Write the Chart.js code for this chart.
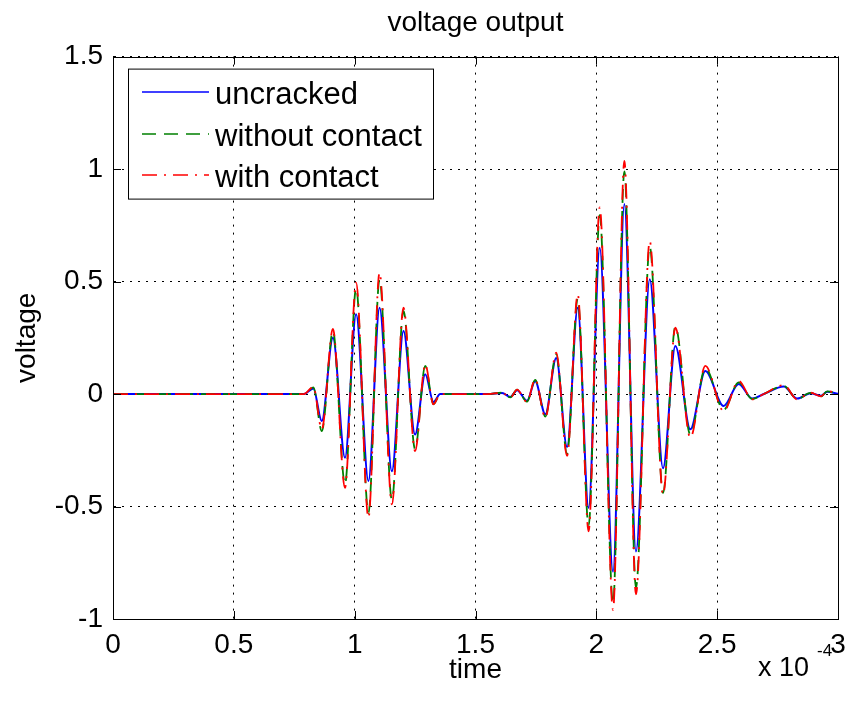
<!DOCTYPE html>
<html>
<head>
<meta charset="utf-8">
<script src="https://cdn.jsdelivr.net/npm/chart.js@4.4.0/dist/chart.umd.min.js"></script>
<style>
  html, body { margin: 0; padding: 0; background: #fff; }
</style>
</head>
<body>
<canvas id="voltage-chart" width="849" height="710"></canvas>
<script>
// time in units of 1e-4 s (axis shows "x 10^-4")
var timeE4 = [0, 0.79, 0.829, 0.864, 0.91, 0.96, 1.006, 1.057, 1.103, 1.154,
  1.202, 1.25, 1.292, 1.326, 1.354, 1.40, 1.55, 1.61, 1.644, 1.672,
  1.713, 1.747, 1.789, 1.834, 1.879, 1.923, 1.968, 2.014, 2.069, 2.116,
  2.164, 2.221, 2.276, 2.327, 2.389, 2.451, 2.527, 2.589, 2.645, 2.693,
  2.776, 2.831, 2.886, 2.93, 2.955, 3.0];

var uncracked = [0, 0, 0.025, -0.12, 0.25, -0.283, 0.355, -0.387, 0.384, -0.343,
  0.28, -0.18, 0.088, -0.035, 0, 0, 0, 0.005, -0.013, 0.017,
  -0.03, 0.057, -0.09, 0.16, -0.235, 0.384, -0.506, 0.65, -0.79, 0.845,
  -0.70, 0.51, -0.33, 0.214, -0.157, 0.102, -0.053, 0.045, -0.02, 0,
  0.033, -0.02, 0.004, -0.008, 0.01, 0.001];

var withoutContact = [0, 0, 0.03, -0.165, 0.28, -0.40, 0.47, -0.53, 0.51, -0.47,
  0.37, -0.245, 0.125, -0.045, 0, 0, 0, 0.006, -0.015, 0.02,
  -0.034, 0.063, -0.10, 0.176, -0.265, 0.425, -0.585, 0.795, -0.93, 0.99,
  -0.86, 0.655, -0.44, 0.30, -0.18, 0.115, -0.07, 0.052, -0.022, 0,
  0.036, -0.022, 0.005, -0.01, 0.012, 0.001];

var withContact = [0, 0, 0.032, -0.157, 0.29, -0.417, 0.495, -0.55, 0.54, -0.49,
  0.384, -0.254, 0.132, -0.046, 0, 0, 0, 0.006, -0.016, 0.02,
  -0.035, 0.066, -0.105, 0.184, -0.275, 0.444, -0.61, 0.83, -0.96, 1.036,
  -0.89, 0.68, -0.447, 0.295, -0.194, 0.125, -0.076, 0.058, -0.024, 0,
  0.04, -0.024, 0.006, -0.01, 0.013, 0.001];

var seriesNames = ['uncracked', 'without contact', 'with contact'];

var fontFam = '"Liberation Sans", Arial, Helvetica, sans-serif';

function toPoints(values) {
  var pts = [];
  for (var i = 0; i < timeE4.length; i++) {
    pts.push({ x: timeE4[i], y: values[i] });
  }
  return pts;
}

// matlab style labels: 1 not 1.0
function plainTick(value) {
  return String(Number(value.toFixed(2)));
}

// inward ticks + box around the plot, like matlab
var axesBox = {
  id: 'axesBox',
  afterDatasetsDraw: function (chart) {
    var ctx = chart.ctx;
    var a = chart.chartArea;
    var xs = chart.scales.x;
    var ys = chart.scales.y;
    var len = 8;
    ctx.save();
    ctx.strokeStyle = '#000';
    ctx.lineWidth = 1;
    ctx.setLineDash([]);
    ctx.beginPath();
    xs.ticks.forEach(function (t) {
      var px = Math.round(xs.getPixelForValue(t.value)) + 0.5;
      ctx.moveTo(px, a.bottom);
      ctx.lineTo(px, a.bottom - len);
      ctx.moveTo(px, a.top);
      ctx.lineTo(px, a.top + len);
    });
    ys.ticks.forEach(function (t) {
      var py = Math.round(ys.getPixelForValue(t.value)) + 0.5;
      ctx.moveTo(a.left, py);
      ctx.lineTo(a.left + len, py);
      ctx.moveTo(a.right, py);
      ctx.lineTo(a.right - len, py);
    });
    ctx.stroke();
    ctx.strokeRect(Math.round(a.left) + 0.5, Math.round(a.top) + 0.5,
      Math.round(a.right - a.left), Math.round(a.bottom - a.top));
    ctx.restore();
  },
  afterDraw: function (chart) {
    var ctx = chart.ctx;
    var a = chart.chartArea;
    // legend box in the upper left corner
    var lx = a.left + 15, ly = a.top + 12;
    ctx.save();
    ctx.fillStyle = '#fff';
    ctx.fillRect(lx, ly, 305, 130);
    ctx.strokeStyle = '#000';
    ctx.lineWidth = 1;
    ctx.strokeRect(lx + 0.5, ly + 0.5, 305, 130);
    var rows = [23, 65, 106];
    chart.data.datasets.forEach(function (ds, i) {
      var y = ly + rows[i] + 0.5;
      ctx.beginPath();
      ctx.strokeStyle = ds.borderColor;
      ctx.lineWidth = 1.5;
      ctx.setLineDash(ds.borderDash || []);
      ctx.moveTo(lx + 14, y);
      ctx.lineTo(lx + 81, y);
      ctx.stroke();
      ctx.setLineDash([]);
      ctx.fillStyle = '#000';
      ctx.font = '31px ' + fontFam;
      ctx.textBaseline = 'alphabetic';
      ctx.textAlign = 'left';
      ctx.fillText(ds.label, lx + 87, ly + rows[i] + 12);
    });
    // exponent of the time axis
    ctx.fillStyle = '#000';
    ctx.font = '27px ' + fontFam;
    ctx.fillText('x 10', 758, 676);
    ctx.font = '17px ' + fontFam;
    ctx.fillText('-4', 817, 656);
    ctx.restore();
  }
};

new Chart(document.getElementById('voltage-chart'), {
  type: 'line',
  data: {
    datasets: [
      {
        label: seriesNames[0],
        data: toPoints(uncracked),
        borderColor: '#0000ff',
        borderWidth: 2,
        order: 3
      },
      {
        label: seriesNames[1],
        data: toPoints(withoutContact),
        borderColor: '#008000',
        borderWidth: 1.8,
        borderDash: [14, 8],
        order: 2
      },
      {
        label: seriesNames[2],
        data: toPoints(withContact),
        borderColor: '#ff0000',
        borderWidth: 1.8,
        borderDash: [15, 7, 2, 7],
        order: 1
      }
    ]
  },
  options: {
    responsive: false,
    animation: false,
    devicePixelRatio: 1,
    elements: {
      point: { radius: 0, hoverRadius: 0 },
      line: { cubicInterpolationMode: 'monotone', fill: false }
    },
    layout: { padding: { left: 0, right: 11, top: 0, bottom: 0 } },
    plugins: {
      legend: { display: false },
      tooltip: { enabled: false },
      title: {
        display: true,
        text: 'voltage output',
        fullSize: false,
        color: '#000',
        font: { family: fontFam, size: 28, weight: 'normal' },
        padding: { top: 6, bottom: 17 }
      }
    },
    scales: {
      x: {
        type: 'linear',
        min: 0,
        max: 3,
        ticks: {
          stepSize: 0.5,
          color: '#000',
          font: { family: fontFam, size: 28 },
          padding: 9,
          maxRotation: 0,
          autoSkip: false,
          callback: plainTick
        },
        grid: { color: '#000', lineWidth: 1, drawTicks: false },
        border: { display: true, color: '#000', dash: [2, 6] },
        title: {
          display: true,
          text: 'time',
          color: '#000',
          font: { family: fontFam, size: 28 },
          padding: { top: 0, bottom: 23 }
        },
        afterFit: function (scale) {
          scale.height = 91;
          scale.paddingLeft = 0;
          scale.paddingRight = 0;
        }
      },
      y: {
        type: 'linear',
        min: -1,
        max: 1.5,
        ticks: {
          stepSize: 0.5,
          color: '#000',
          font: { family: fontFam, size: 28 },
          padding: 10,
          callback: plainTick
        },
        grid: { color: '#000', lineWidth: 1, drawTicks: false },
        border: { display: true, color: '#000', dash: [2, 6] },
        title: {
          display: true,
          text: 'voltage',
          color: '#000',
          font: { family: fontFam, size: 28 },
          padding: { top: 10, bottom: 0 }
        },
        afterFit: function (scale) { scale.width = 113; }
      }
    }
  },
  plugins: [axesBox]
});
</script>
</body>
</html>
